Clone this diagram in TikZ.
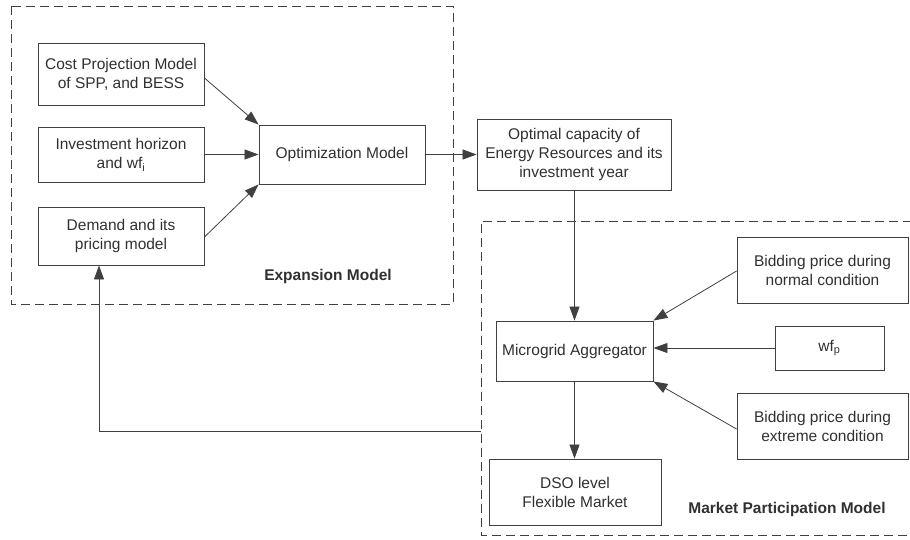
\documentclass[tikz,border=0pt]{standalone}
\usepackage{fontspec}
\setmainfont{Liberation Sans}
\usetikzlibrary{arrows.meta}
\definecolor{ln}{HTML}{404040}
\definecolor{tx}{HTML}{303030}
\tikzset{
  blk/.style={draw=ln, line width=0.9pt, align=center, inner sep=2pt, text=tx, font=\fontsize{15.5}{19}\selectfont},
  conn/.style={draw=ln, line width=0.8pt, -{Triangle[length=14pt,width=10pt]}},
  grp/.style={draw=ln, line width=0.8pt, dash pattern=on 9pt off 5pt},
  lbl/.style={text=tx, font=\fontsize{15.5}{19}\selectfont\bfseries}
}
\begin{document}
\begin{tikzpicture}[x=1pt,y=-1pt]
\useasboundingbox (0,0) rectangle (910,539);
% groups
\draw[grp] (11,6) rectangle (453,304);
\draw[grp] (912,221) -- (481,221) -- (481,535) -- (912,535);
\node[lbl] (explbl) at (328,276) {Expansion Model};
\node[lbl] (mktlbl) at (787,509) {Market Participation Model};
% nodes
\node[blk, minimum width=166pt, minimum height=62pt] (cost) at (121,74) {Cost Projection Model\\of SPP, and BESS};
\node[blk, minimum width=166pt, minimum height=55pt] (inv) at (121,154.5) {Investment horizon\\and wf\textsubscript{i}};
\node[blk, minimum width=166pt, minimum height=58pt] (dem) at (121,236) {Demand and its\\pricing model};
\node[blk, minimum width=166pt, minimum height=59pt] (opt) at (342,154.5) {Optimization Model};
\node[blk, minimum width=194pt, minimum height=71pt] (cap) at (574,154.5) {Optimal capacity of\\Energy Resources and its\\investment year};
\node[blk, minimum width=171pt, minimum height=66pt] (bnorm) at (822.5,270) {Bidding price during\\normal condition};
\node[blk, minimum width=157pt, minimum height=60pt] (micro) at (574.5,351) {Microgrid Aggregator};
\node[blk, minimum width=109pt, minimum height=44pt] (wfp) at (829.5,348) {wf\textsubscript{p}};
\node[blk, minimum width=171pt, minimum height=66pt] (bext) at (822.5,426) {Bidding price during\\extreme condition};
\node[blk, minimum width=172pt, minimum height=66pt] (dso) at (575,492) {DSO level\\Flexible Market};
\coordinate (fb) at (481,431);
% connectors
\draw[conn] (cost.east |- 0,78) -- (opt.north west);
\draw[conn] (inv.east) -- (opt.west);
\draw[conn] (dem.east |- 0,237) -- (opt.south west);
\draw[conn] (opt.east) -- (cap.west);
\draw[conn] (cap.south -| micro.north) -- (micro.north);
\draw[conn] (bnorm.west |- 0,271) -- (micro.north east);
\draw[conn] (wfp.west) -- (micro.east |- wfp.west);
\draw[conn] (bext.west |- 0,429) -- (micro.south east);
\draw[conn] (micro.south) -- (micro.south |- dso.north);
\draw[conn] (fb) -| ([xshift=-22pt]dem.south);
\end{tikzpicture}
\end{document}
